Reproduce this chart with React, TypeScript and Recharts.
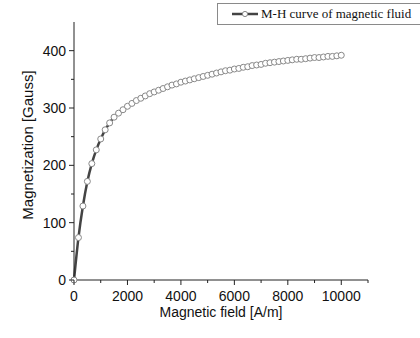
import { LineChart, Line, XAxis, YAxis } from 'recharts';

// magnetic field H [A/m], sampled every 10000/60
const fieldSteps = Array.from({ length: 61 }, (_, i) => i);

// magnetization M [Gauss]
const magnetization = [
  0, 74, 129, 172, 203, 227, 246, 262, 274, 284,
  291, 297, 303, 308, 313, 317, 321, 325, 328, 331,
  334, 337, 340, 342, 345, 347, 349, 351, 353, 355,
  357, 359, 361, 363, 365, 366, 368, 369, 371, 372,
  374, 375, 376, 378, 379, 380, 381, 382, 383, 384,
  385, 385, 386, 387, 388, 388, 389, 390, 390, 391,
  392,
];

const xTicks = [0, 1000, 2000, 3000, 4000, 5000, 6000, 7000, 8000, 9000, 10000, 11000];
const yTicks = [0, 50, 100, 150, 200, 250, 300, 350, 400];

const seriesName = 'M-H curve of magnetic fluid';

const data = fieldSteps.map((i) => ({
  h: (i * 10000) / 60,
  m: magnetization[i],
}));

const SANS = '"Liberation Sans", Arial, sans-serif';
const SERIF = '"Liberation Serif", "Times New Roman", serif';
const AXIS = '#222';

// eslint-disable-next-line @typescript-eslint/no-explicit-any
const XTick = (props: any) => {
  const { x, y, payload } = props;
  const major = payload.value % 2000 === 0 && payload.value <= 10000;
  return (
    <g>
      <line x1={x} x2={x} y1={y} y2={y + (major ? 5 : 3)} stroke={AXIS} strokeWidth={1} />
      {major && (
        <text x={x} y={y + 21} textAnchor="middle" fontFamily={SANS} fontSize={14} fill="#111">
          {payload.value}
        </text>
      )}
    </g>
  );
};

// eslint-disable-next-line @typescript-eslint/no-explicit-any
const YTick = (props: any) => {
  const { x, y, payload } = props;
  const major = payload.value % 100 === 0;
  return (
    <g>
      <line x1={x} x2={x - (major ? 5 : 3)} y1={y} y2={y} stroke={AXIS} strokeWidth={1} />
      {major && (
        <text x={x - 8} y={y + 5} textAnchor="end" fontFamily={SANS} fontSize={14} fill="#111">
          {payload.value}
        </text>
      )}
    </g>
  );
};

// eslint-disable-next-line @typescript-eslint/no-explicit-any
const YLabel = (props: any) => {
  const { viewBox } = props;
  const cx = viewBox.x + 13;
  const cy = viewBox.y + viewBox.height / 2 - 6;
  return (
    <text
      x={cx}
      y={cy}
      transform={`rotate(-90 ${cx} ${cy})`}
      textAnchor="middle"
      dominantBaseline="central"
      fontFamily={SANS}
      fontSize={15}
      fill="#111"
    >
      Magnetization [Gauss]
    </text>
  );
};

const LegendBox = () => (
  <div
    style={{
      position: 'absolute',
      left: 217,
      top: 3,
      width: 206,
      height: 22,
      border: '1px solid #8a8a8a',
      background: '#fff',
      boxSizing: 'border-box',
      display: 'flex',
      alignItems: 'center',
      fontFamily: SERIF,
      fontSize: 13,
      color: '#111',
      whiteSpace: 'nowrap',
    }}
  >
    <svg width={43} height={12}>
      <line x1={14} x2={40} y1={6} y2={6} stroke="#444" strokeWidth={2.5} />
      <circle cx={27} cy={6} r={2.6} fill="#fff" stroke="#888" strokeWidth={1} />
    </svg>
    <span>{seriesName}</span>
  </div>
);

export default function App() {
  return (
    <div style={{ position: 'absolute', left: 0, top: 0, width: 420, height: 338, background: '#fff', overflow: 'hidden' }}>
      <LineChart width={420} height={338} data={data} margin={{ top: 22, right: 52, bottom: 18, left: 14 }}>
        <XAxis
          dataKey="h"
          type="number"
          domain={[0, 11000]}
          ticks={xTicks}
          interval={0}
          tickSize={0}
          tickMargin={0}
          tick={<XTick />}
          stroke={AXIS}
          height={40}
          label={{ value: 'Magnetic field [A/m]', position: 'insideBottom', offset: 0, dy: -3, fontFamily: SANS, fontSize: 14, fill: '#111' }}
        />
        <YAxis
          type="number"
          domain={[0, 450]}
          ticks={yTicks}
          interval={0}
          tickSize={0}
          tickMargin={0}
          tick={<YTick />}
          stroke={AXIS}
          width={60}
          label={<YLabel />}
        />
        <Line
          dataKey="m"
          name={seriesName}
          type="monotone"
          stroke="#444"
          strokeWidth={2.5}
          dot={{ r: 3, fill: '#fff', stroke: '#888', strokeWidth: 1 }}
          isAnimationActive={false}
        />
      </LineChart>
      <LegendBox />
    </div>
  );
}
